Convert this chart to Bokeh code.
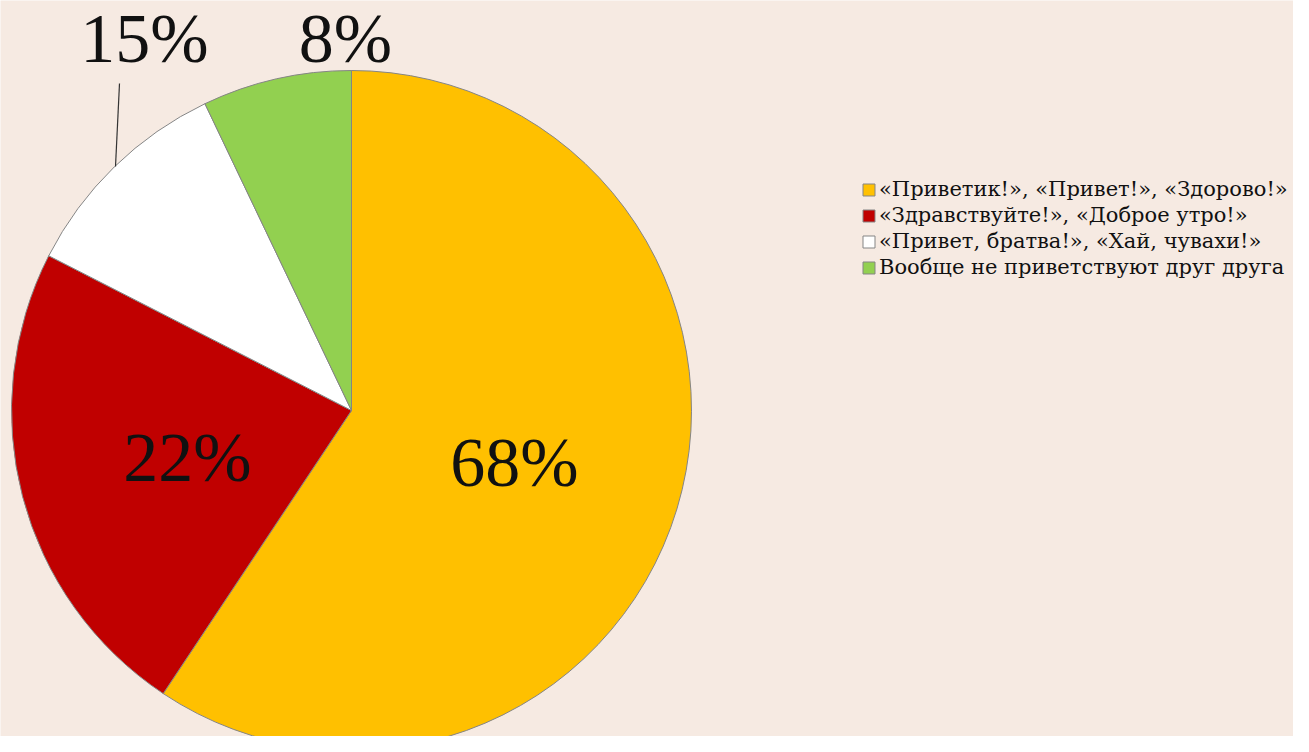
import math
from bokeh.plotting import figure
from bokeh.models import Range1d, ColumnDataSource, Legend, LegendItem
from bokeh.core.properties import value
from bokeh.embed import file_html
from bokeh.resources import INLINE

# ---- data (slice shares; label texts as printed) ----
categories = [
    "«Приветик!», «Привет!», «Здорово!»",
    "«Здравствуйте!», «Доброе утро!»",
    "«Привет, братва!», «Хай, чувахи!»",
    "Вообще не приветствуют друг друга",
]
shares = [59.4, 23.2, 10.4, 7.1]
labels = ["68%", "22%", "15%", "8%"]
colors = ["#FFC000", "#C00000", "#FFFFFF", "#92D050"]

# ---- layout (image pixel coordinates; y measured downward) ----
W, H = 1293, 736
CX, CY, R = 351, 410, 340
TEXT_SHIFT = 25          # renderer places alphabetic baseline this much lower
LABEL_XY = [(514, 487), (187, 482), (144, 63), (345, 63)]
BG = "#f6eae2"

def iy(y):
    return H - y

total = float(sum(shares))
starts, ends = [], []
a = math.pi / 2
for v in shares:
    starts.append(a)
    a -= 2 * math.pi * v / total
    ends.append(a)

p = figure(width=W, height=H, output_backend="svg", toolbar_location=None,
           x_range=Range1d(0, W), y_range=Range1d(0, H),
           min_border=0, background_fill_color=BG, border_fill_color=BG,
           outline_line_color=None)
p.axis.visible = False
p.grid.visible = False

src = ColumnDataSource(dict(start=starts, end=ends, color=colors, cat=categories))
r = p.wedge(x=CX, y=iy(CY), radius=R, start_angle="start", end_angle="end",
            direction="clock", fill_color="color", line_color="#858585",
            line_width=1, source=src)

lsrc = ColumnDataSource(dict(x=[xy[0] for xy in LABEL_XY],
                             y=[iy(xy[1] - TEXT_SHIFT) for xy in LABEL_XY],
                             t=labels))
p.text(x="x", y="y", text="t", source=lsrc, text_font=value("Liberation Serif"),
       text_font_size="70px", text_align="center", text_baseline="alphabetic",
       text_color="#111111")

# leader line for the outside 15% label
p.line(x=[119, 115], y=[iy(83), iy(166)], line_color="#333333", line_width=1.2)

items = [LegendItem(label=c, renderers=[r], index=i) for i, c in enumerate(categories)]
leg = Legend(items=items, location=(861, H - 280), padding=0, margin=0,
             border_line_color=None, background_fill_alpha=0,
             glyph_height=15, glyph_width=15, label_height=26, spacing=0,
             label_standoff=3, label_text_font="DejaVu Serif",
             label_text_font_size="21px", label_text_color="#111111")
p.add_layout(leg)

open("out.html", "w").write(file_html(p, INLINE))
